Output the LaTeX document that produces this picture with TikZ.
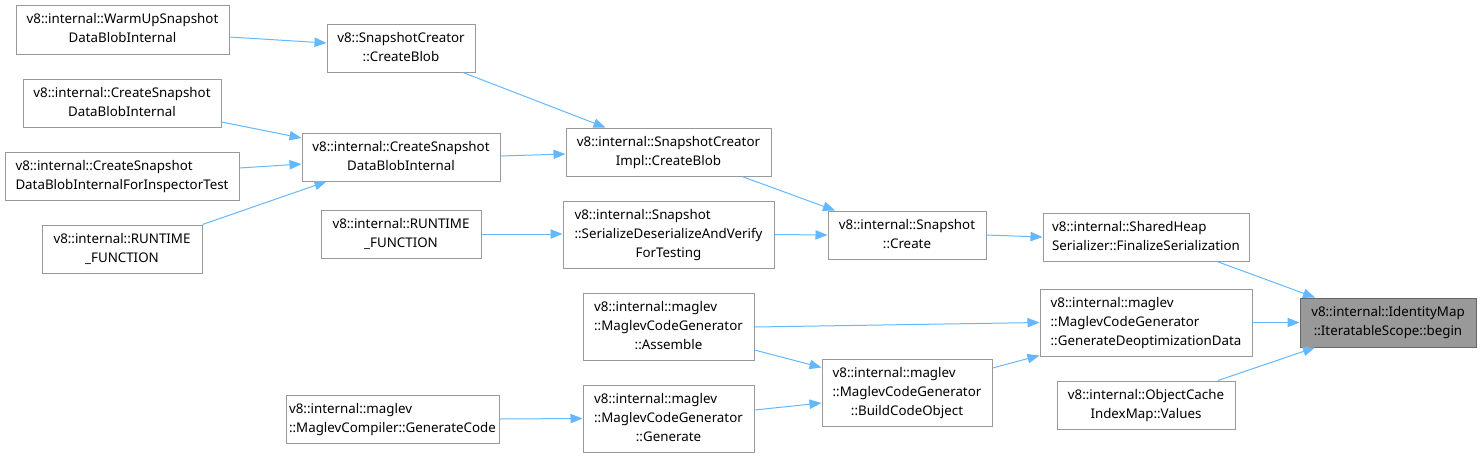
\documentclass[tikz,border=0pt]{standalone}
\usepackage{fontspec}
\setmainfont{Noto Sans}
\usetikzlibrary{calc,arrows.meta}
\definecolor{nodeborder}{HTML}{999999}
\definecolor{hlfill}{HTML}{999999}
\definecolor{hlborder}{HTML}{666666}
\definecolor{edgeblue}{HTML}{63B8FF}
\newcommand\twol[2]{\begin{tabular}{@{}l@{}}#1\\\multicolumn{1}{@{}c@{}}{#2}\end{tabular}}
\tikzset{
  fnbox/.style={draw=nodeborder,fill=white,line width=0.75pt,inner sep=0pt,
    font=\fontsize{10}{14.25}\selectfont},
  hlbox/.style={fnbox,fill=hlfill,draw=hlborder},
  wh/.style 2 args={minimum width=#1*0.75pt,minimum height=#2*0.75pt},
  callarrow/.style={draw=edgeblue,line width=0.75pt,-{Triangle[length=9pt,width=7pt]}}
}
\begin{document}
\begin{tikzpicture}[x=0.75pt,y=-0.75pt]
\useasboundingbox (0,0) rectangle (1482,458);
% nodes
\node[fnbox,wh={213}{49}] (warm) at (122.5,29.5) {\twol{v8::internal::WarmUpSnapshot}{DataBlobInternal}};
\node[fnbox,wh={148}{48}] (cblob) at (401,48) {\twol{v8::SnapshotCreator}{::CreateBlob}};
\node[fnbox,wh={198}{48}] (csdbl) at (122,103) {\twol{v8::internal::CreateSnapshot}{DataBlobInternal}};
\node[fnbox,wh={234}{48}] (insp) at (122,176) {\twol{v8::internal::CreateSnapshot}{DataBlobInternalForInspectorTest}};
\node[fnbox,wh={160}{48}] (rtl) at (122,249) {\twol{v8::internal::RUNTIME}{\_FUNCTION}};
\node[fnbox,wh={198}{48}] (csdbm) at (401,157) {\twol{v8::internal::CreateSnapshot}{DataBlobInternal}};
\node[fnbox,wh={160}{48}] (rtm) at (401,234) {\twol{v8::internal::RUNTIME}{\_FUNCTION}};
\node[fnbox,wh={205}{48}] (impl) at (668.5,152) {\twol{v8::internal::SnapshotCreator}{Impl::CreateBlob}};
\node[fnbox,wh={211}{67}] (sda) at (668.5,234.5) {\twol{v8::internal::Snapshot\\::SerializeDeserializeAndVerify}{ForTesting}};
\node[fnbox,wh={158}{48}] (screate) at (907,235) {\twol{v8::internal::Snapshot}{::Create}};
\node[fnbox,wh={206}{48}] (shared) at (1146,237) {\twol{v8::internal::SharedHeap}{Serializer::FinalizeSerialization}};
\node[fnbox,wh={212}{67}] (gdd) at (1146,322.5) {\twol{v8::internal::maglev\\::MaglevCodeGenerator}{::GenerateDeoptimizationData}};
\node[fnbox,wh={178}{48}] (objc) at (1146,405) {\twol{v8::internal::ObjectCache}{IndexMap::Values}};
\node[hlbox,wh={176}{49}] (ident) at (1388,322.5) {\twol{v8::internal::IdentityMap}{::IteratableScope::begin}};
\node[fnbox,wh={171}{67}] (asm) at (668.5,326.5) {\twol{v8::internal::maglev\\::MaglevCodeGenerator}{::Assemble}};
\node[fnbox,wh={171}{67}] (gen) at (668.5,418.5) {\twol{v8::internal::maglev\\::MaglevCodeGenerator}{::Generate}};
\node[fnbox,wh={213}{48}] (gcode) at (392.5,419) {\twol{v8::internal::maglev}{::MaglevCompiler::GenerateCode}};
\node[fnbox,wh={170}{67}] (bco) at (907,392.5) {\twol{v8::internal::maglev\\::MaglevCodeGenerator}{::BuildCodeObject}};
% edges
\draw[callarrow] ($(warm.east)+(0,7.5)$) -- ($(cblob.west)+(0,-5)$);
\draw[callarrow] ($(cblob.south)+(62,0)$) -- ($(impl.north)+(-63,0)$);
\draw[callarrow] ($(csdbl.east)+(0,19)$) -- ($(csdbm.west)+(0,-19)$);
\draw[callarrow] ($(insp.east)+(0,-8)$) -- ($(csdbm.west)+(0,7)$);
\draw[callarrow] (rtl.north east) -- ($(csdbm.south west)+(25,0)$);
\draw[callarrow] ($(csdbm.east)+(0,-1)$) -- ($(impl.west)+(0,2)$);
\draw[callarrow] ($(impl.south)+(73.5,0)$) -- ($(screate.north)+(-72,0)$);
\draw[callarrow] (rtm.east) -- ($(sda.west)+(0,-0.5)$);
\draw[callarrow] (sda.east) -- (screate.west);
\draw[callarrow] (screate.east) -- (shared.west);
\draw[callarrow] ($(shared.south)+(71,0)$) -- ($(ident.north)+(-73,0)$);
\draw[callarrow] (gdd.east) -- (ident.west);
\draw[callarrow] ($(objc.north)+(72,0)$) -- ($(ident.south)+(-73,0)$);
\draw[callarrow] ($(asm.east)+(0,0.5)$) -- (gdd.west);
\draw[callarrow] ($(asm.east)+(0,23.5)$) -- ($(bco.west)+(0,-25)$);
\draw[callarrow] ($(gen.east)+(0,-8.5)$) -- ($(bco.west)+(0,10.5)$);
\draw[callarrow] (gcode.east) -- (gen.west);
\draw[callarrow] ($(bco.east)+(0,-24.5)$) -- ($(gdd.south west)+(0,-1)$);
\end{tikzpicture}
\end{document}
